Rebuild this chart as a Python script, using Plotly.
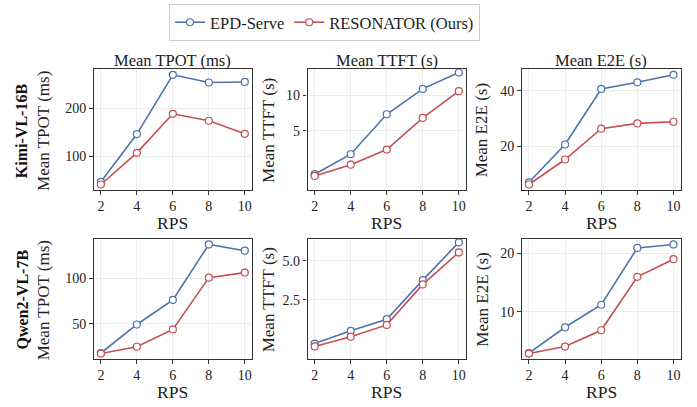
import numpy as np
import plotly.graph_objects as go
from plotly.subplots import make_subplots

rps = [2, 4, 6, 8, 10]

# Kimi-VL-16B
kimi_tpot_epd = [47.7, 146.3, 268.8, 252.9, 254.0]
kimi_tpot_res = [42.1, 107.6, 188.2, 173.8, 146.9]
kimi_ttft_epd = [1.24, 2.66, 7.12, 11.06, 14.05]
kimi_ttft_res = [1.14, 1.85, 3.07, 6.62, 10.67]
kimi_e2e_epd = [7.0, 20.6, 40.6, 43.0, 45.7]
kimi_e2e_res = [6.2, 15.2, 26.3, 28.2, 28.8]

# Qwen2-VL-7B
qwen_tpot_epd = [18.2, 49.3, 76.1, 136.6, 129.8]
qwen_tpot_res = [17.6, 25.0, 43.9, 100.4, 105.9]
qwen_ttft_epd = [0.72, 1.13, 1.58, 3.66, 6.48]
qwen_ttft_res = [0.64, 0.93, 1.35, 3.39, 5.65]
qwen_e2e_epd = [2.91, 7.34, 11.19, 20.9, 21.5]
qwen_e2e_res = [2.85, 4.04, 6.83, 15.96, 18.98]

col_titles = ["Mean TPOT (ms)", "Mean TTFT (s)", "Mean E2E (s)"]
row_labels = ["Kimi-VL-16B", "Qwen2-VL-7B"]
y_labels = ["Mean TPOT (ms)", "Mean TTFT (s)", "Mean E2E (s)"]
x_label = "RPS"
series_names = ["EPD-Serve", "RESONATOR (Ours)"]
x_ticks = [2, 4, 6, 8, 10]

yticks = [
    [[100, 200], [5, 10], [20, 40]],
    [[50, 100], [2.5, 5.0], [10, 20]],
]
yticktext = [
    [["100", "200"], ["5", "10"], ["20", "40"]],
    [["50", "100"], ["2.5", "5.0"], ["10", "20"]],
]

data = [
    [(kimi_tpot_epd, kimi_tpot_res), (kimi_ttft_epd, kimi_ttft_res), (kimi_e2e_epd, kimi_e2e_res)],
    [(qwen_tpot_epd, qwen_tpot_res), (qwen_ttft_epd, qwen_ttft_res), (qwen_e2e_epd, qwen_e2e_res)],
]
sqrt_cols = [False, True, False]

BLUE = "#4C72B0"
RED = "#C44E52"
colors = [BLUE, RED]
FONT = "Liberation Serif, Times New Roman, serif"
W, H = 697, 407

fig = make_subplots(rows=2, cols=3)

xdom_px = [(93.7, 252.0), (307.5, 466.0), (521.7, 680.7)]
ydom_px = [(69.3, 190.0), (239.0, 359.0)]

def px_x(v):
    return v / W

def px_y(v):
    return 1 - v / H

for r in range(2):
    for c in range(3):
        ser = data[r][c]
        tf = np.sqrt if sqrt_cols[c] else (lambda a: np.asarray(a, dtype=float))
        for k, vals in enumerate(ser):
            fig.add_trace(
                go.Scatter(
                    x=rps,
                    y=tf(np.asarray(vals, dtype=float)),
                    mode="lines+markers",
                    name=series_names[k],
                    showlegend=(r == 0 and c == 0),
                    line=dict(color=colors[k], width=1.6),
                    marker=dict(symbol="circle", size=7, color="white",
                                line=dict(color=colors[k], width=1.2)),
                ),
                row=r + 1, col=c + 1,
            )
        allv = np.concatenate([np.asarray(s, dtype=float) for s in ser])
        lo, hi = allv.min(), allv.max()
        m = 0.05 * (hi - lo)
        rng = [lo - m, hi + m]
        yr = [float(tf(np.array(rng[0]))), float(tf(np.array(rng[1])))]
        tv = [float(tf(np.array(t))) for t in yticks[r][c]]
        x0, x1 = xdom_px[c]
        y0, y1 = ydom_px[r]
        fig.update_xaxes(
            domain=[px_x(x0), px_x(x1)], range=[1.6, 10.4],
            tickvals=x_ticks, ticks="outside", ticklen=3.5, tickwidth=1, tickcolor="#333",
            showline=True, linecolor="#333", linewidth=1.3, mirror=True,
            showgrid=True, gridcolor="#ececec", gridwidth=0.8, zeroline=False,
            tickfont=dict(family=FONT, size=14, color="#222"),
            row=r + 1, col=c + 1,
        )
        fig.update_yaxes(
            domain=[px_y(y1), px_y(y0)], range=yr,
            tickvals=tv, ticktext=yticktext[r][c],
            ticks="outside", ticklen=3.5, tickwidth=1, tickcolor="#333",
            showline=True, linecolor="#333", linewidth=1.3, mirror=True,
            showgrid=True, gridcolor="#ececec", gridwidth=0.8, zeroline=False,
            tickfont=dict(family=FONT, size=14, color="#222"),
            row=r + 1, col=c + 1,
        )

annotations = []
# column titles
for c in range(3):
    x0, x1 = xdom_px[c]
    annotations.append(dict(
        text=col_titles[c], x=px_x((x0 + x1) / 2), y=px_y(60),
        xref="paper", yref="paper", xanchor="center", yanchor="middle",
        showarrow=False, font=dict(family=FONT, size=16.5, color="#222")))

ylab_x = [43.3, 268.3, 481.7]
for r in range(2):
    y0, y1 = ydom_px[r]
    yc = (y0 + y1) / 2
    annotations.append(dict(
        text="<b>" + row_labels[r] + "</b>", x=px_x(21.5), y=px_y(yc + 1),
        xref="paper", yref="paper", xanchor="center", yanchor="middle",
        textangle=-90, showarrow=False, font=dict(family=FONT, size=16, color="#111")))
    for c in range(3):
        annotations.append(dict(
            text=y_labels[c], x=px_x(ylab_x[c]), y=px_y(yc + 1),
            xref="paper", yref="paper", xanchor="center", yanchor="middle",
            textangle=-90, showarrow=False, font=dict(family=FONT, size=17, color="#222")))
        x0, x1 = xdom_px[c]
        annotations.append(dict(
            text=x_label, x=px_x((x0 + x1) / 2), y=px_y(y1 + 33),
            xref="paper", yref="paper", xanchor="center", yanchor="middle",
            showarrow=False, font=dict(family=FONT, size=17.5, color="#222")))

fig.update_layout(
    width=W, height=H,
    margin=dict(l=0, r=0, t=0, b=0),
    paper_bgcolor="white", plot_bgcolor="white",
    annotations=annotations,
    showlegend=True,
    legend=dict(
        orientation="h", x=px_x(324.5), xanchor="center", y=px_y(4), yanchor="top",
        bordercolor="#cccccc", borderwidth=1, bgcolor="white",
        font=dict(family=FONT, size=16.5, color="#222"),
        itemwidth=30, tracegroupgap=0,
    ),
)

fig.write_html("out.html")
